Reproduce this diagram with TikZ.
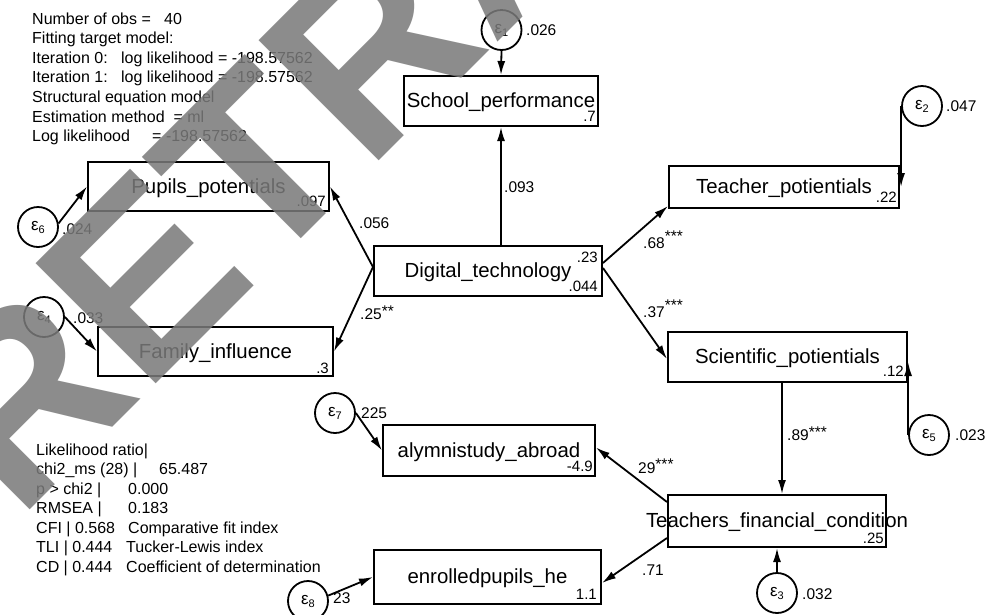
\documentclass[tikz,border=0pt]{standalone}
\usepackage{fontspec}
\setmainfont{Liberation Sans}
\usetikzlibrary{arrows.meta,calc}
\newcommand\bxt[1]{\makebox[0pt]{\rule[-4.5pt]{0pt}{22pt}#1}}
\newcommand\epsl[1]{{\fontsize{17}{17}\selectfont ε}\raisebox{-3pt}{\fontsize{11}{11}\selectfont #1}}
\newcommand\stars[2]{\raisebox{#1}{#2}}
\begin{document}
\begin{tikzpicture}[x=1pt,y=-1pt,
 box/.style={draw, line width=2pt, rectangle, inner sep=0pt, font=\fontsize{20.4}{24}\selectfont},
 err/.style={draw, circle, line width=1.8pt, minimum size=40pt, inner sep=0pt},
 arr/.style={line width=1.8pt, -{Latex[length=14pt,width=8pt]}},
 lab/.style={font=\fontsize{15.5}{18}\selectfont, inner sep=0pt, anchor=base west},
 corner/.style={font=\fontsize{15}{18}\selectfont, inner sep=0pt, anchor=base east},
 stat/.style={font=\fontsize{16}{19}\selectfont, inner sep=0pt, anchor=base west},
]
\useasboundingbox (0,0) rectangle (989,614);
\fill[white] (0,0) rectangle (989,614);

% observed variables
\node[box, minimum width=194pt, minimum height=50pt] (sp) at (501,101) {\bxt{School\_performance}};
\node[box, minimum width=228pt, minimum height=50pt] (dt) at (488,271) {\bxt{Digital\_technology}};
\node[box, minimum width=241pt, minimum height=49pt] (pp) at (208.5,186.5) {\bxt{Pupils\_potentials}};
\node[box, minimum width=235pt, minimum height=49pt] (fi) at (215.5,351.5) {\bxt{Family\_influence}};
\node[box, minimum width=230pt, minimum height=42pt] (tp) at (784,187) {\bxt{Teacher\_potientials}};
\node[box, minimum width=239pt, minimum height=50pt] (sc) at (787.5,357) {\bxt{Scientific\_potientials}};
\node[box, minimum width=218pt, minimum height=52pt] (tfc) at (777,521) {\bxt{Teachers\_financial\_condition}};
\node[box, minimum width=212pt, minimum height=51pt] (ab) at (489,450.5) {\bxt{alymnistudy\_abroad}};
\node[box, minimum width=227pt, minimum height=54pt] (ep) at (487.5,577) {\bxt{enrolledpupils\_he}};

% corner numbers
\node[corner] at ($(sp.south east)+(-3,-6)$) {.7};
\node[corner] at ($(dt.north east)+(-5,17)$) {.23};
\node[corner] at ($(dt.south east)+(-5,-6)$) {.044};
\node[corner] at ($(pp.south east)+(-4,-6)$) {.097};
\node[corner] at ($(fi.south east)+(-5,-4)$) {.3};
\node[corner] at ($(tp.south east)+(-3,-7)$) {.22};
\node[corner] at ($(sc.south east)+(-4,-7)$) {.12};
\node[corner] at ($(tfc.south east)+(-3,-5)$) {.25};
\node[corner] at ($(ab.south east)+(-3,-6)$) {-4.9};
\node[corner] at ($(ep.south east)+(-5,-6)$) {1.1};

% error terms
\node[err] (e1) at (501.5,30) {\epsl{1}};
\node[err] (e2) at (922,106) {\epsl{2}};
\node[err] (e3) at (777,593) {\epsl{3}};
\node[err] (e4) at (44,317) {\epsl{4}};
\node[err] (e5) at (929,435) {\epsl{5}};
\node[err] (e6) at (38,227) {\epsl{6}};
\node[err] (e7) at (335,413) {\epsl{7}};
\node[err] (e8) at (308,601) {\epsl{8}};

% connectors
\draw[arr] (e1.south) -- (sp.north);
\draw[arr] (sp.south |- dt.north) -- (sp.south);
\draw[arr] ($(dt.west)+(0,-4)$) -- (pp.east);
\draw[arr] ($(dt.west)+(0,-4)$) -- (fi.east);
\draw[arr] ($(dt.east)+(0,-8)$) -- ($(tp.south west)+(0,-3)$);
\draw[arr] ($(dt.east)+(0,-3)$) -- ($(sc.west)+(0,2)$);
\draw[arr] (e2.west) -- (e2.west |- tp.east);
\draw[arr] (e6.10) -- (pp.west);
\draw[arr] (e4.east) -- (fi.west);
\draw[arr] ([xshift=5pt]tfc.north |- sc.south) -- ([xshift=5pt]tfc.north);
\draw[arr] (e5.west) -- ([yshift=-5pt]e5.west |- sc.east);
\draw[arr] (e3.north) -- (tfc.south);
\draw[arr] ($(tfc.north west)+(0,8)$) -- ($(ab.east)+(0,-3)$);
\draw[arr] ($(tfc.south west)+(0,-10)$) -- ($(ep.east)+(0,6)$);
\draw[arr] (e7.east) -- (ab.west);
\draw[arr] (e8.15) -- (ep.west);

% labels
\node[lab] at (526,35.5) {.026};
\node[lab] at (946,111.5) {.047};
\node[lab] at (62,234.5) {.024};
\node[lab] at (73,323.5) {.033};
\node[lab] at (955,440.5) {.023};
\node[lab] at (802,599.5) {.032};
\node[lab] at (361,418.5) {225};
\node[lab] at (333,603.5) {23};
\node[lab] at (504,192.5) {.093};
\node[lab] at (359,228.5) {.056};
\node[lab] at (360,319.5) {.25\stars{3.5pt}{**}};
\node[lab] at (643,248.5) {.68\stars{7.5pt}{***}};
\node[lab] at (643,317.5) {.37\stars{7pt}{***}};
\node[lab] at (787,440.5) {.89\stars{3pt}{***}};
\node[lab] at (638,473.5) {29\stars{4.5pt}{***}};
\node[lab] at (642,575.5) {.71};

% top-left output
\node[stat] at (32,24) {Number of obs =~~~40};
\node[stat] at (32,43.6) {Fitting target model:};
\node[stat] at (32,63.2) {Iteration 0:~~~log likelihood = -198.57562};
\node[stat] at (32,82.8) {Iteration 1:~~~log likelihood = -198.57562};
\node[stat] at (32,102.4) {Structural equation model};
\node[stat] at (32,122) {Estimation method~~= ml};
\node[stat] at (32,141.6) {Log likelihood~~~~~= -198.57562};

% fit statistics
\node[stat] at (36,455) {Likelihood ratio|};
\node[stat] at (36,474.5) {chi2\_ms (28) |};
\node[stat] at (159,474.5) {65.487};
\node[stat] at (36,494) {p > chi2 |};
\node[stat] at (128,494) {0.000};
\node[stat] at (36,513.5) {RMSEA |};
\node[stat] at (128,513.5) {0.183};
\node[stat] at (36,533) {CFI | 0.568};
\node[stat] at (128,533) {Comparative fit index};
\node[stat] at (36,552.5) {TLI | 0.444};
\node[stat] at (126,552.5) {Tucker-Lewis index};
\node[stat] at (36,572) {CD | 0.444};
\node[stat] at (126,572) {Coefficient of determination};

% watermark
\node[rotate=45, anchor=base west, inner sep=0pt, font=\fontsize{247}{247}\selectfont\bfseries, text=black!52, text opacity=0.86] (wm) at (18,522) {RETRACTED};
\end{tikzpicture}
\end{document}
